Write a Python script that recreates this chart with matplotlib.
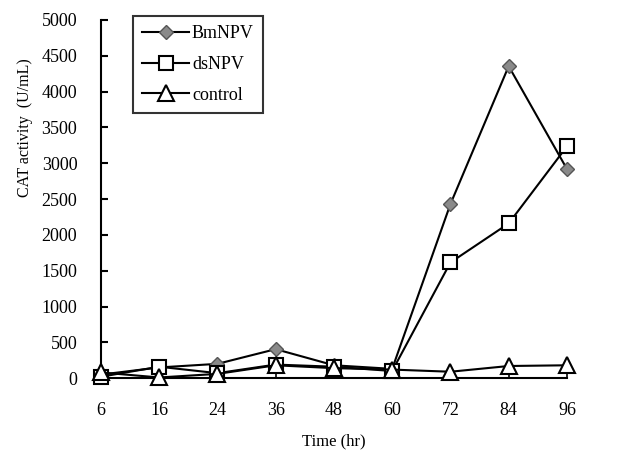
import numpy as np
import matplotlib.pyplot as plt

plt.rcParams['font.family'] = 'Liberation Serif'

hours = ["6", "16", "24", "36", "48", "60", "72", "84", "96"]
bmnpv = [50, 150, 200, 405, 180, 130, 2430, 4355, 2920]
dsnpv = [20, 160, 70, 190, 160, 100, 1615, 2160, 3235]
control = [80, 10, 60, 180, 140, 120, 90, 170, 180]
control_err = [0, 0, 0, 180, 140, 0, 0, 170, 180]

x = np.arange(len(hours))

fig = plt.figure(figsize=(6.23, 4.54), dpi=100)
ax = fig.add_axes([0.162, 0.167, 0.748, 0.789])

ax.errorbar(x, control, yerr=[control_err, np.zeros(len(x))], fmt="none",
            ecolor="black", elinewidth=1.2, capsize=0, clip_on=False)
ax.plot(x, bmnpv, color="black", linewidth=1.5, marker="D", markersize=7,
        markerfacecolor="#8a8a8a", markeredgecolor="#555555", label="BmNPV", clip_on=False, zorder=3)
ax.plot(x, dsnpv, color="black", linewidth=1.5, marker="s", markersize=10.5,
        markerfacecolor="white", markeredgecolor="black", markeredgewidth=1.5, label="dsNPV",
        clip_on=False, zorder=3)
ax.plot(x, control, color="black", linewidth=1.5, marker="^", markersize=11,
        markerfacecolor="white", markeredgecolor="black", markeredgewidth=1.5, label="control",
        clip_on=False, zorder=3)

ax.set_xlim(0, 8)
ax.set_ylim(0, 5000)
ax.set_xticks(x)
ax.set_xticklabels(hours)
ax.set_yticks(np.arange(0, 5001, 500))
ax.tick_params(axis="x", length=0, pad=17, labelsize=13)
ax.tick_params(axis="y", direction="in", length=5, width=1.5, pad=17, labelsize=13)

for s in ["top", "right"]:
    ax.spines[s].set_visible(False)
for s in ["left", "bottom"]:
    ax.spines[s].set_linewidth(1.5)

ax.set_xlabel("Time (hr)", fontsize=12)
ax.xaxis.set_label_coords(0.5, -0.155)
ax.set_ylabel("CAT activity  (U/mL)", fontsize=11.5)
ax.yaxis.set_label_coords(-0.145, 0.70)

leg = ax.legend(loc="upper left", bbox_to_anchor=(0.05, 1.035), fontsize=13,
                frameon=True, fancybox=False, edgecolor="black", handlelength=2.6,
                handletextpad=0.15, labelspacing=0.75, borderpad=0.5)
leg.get_frame().set_linewidth(1.5)

fig.savefig("out.png", dpi=100)
